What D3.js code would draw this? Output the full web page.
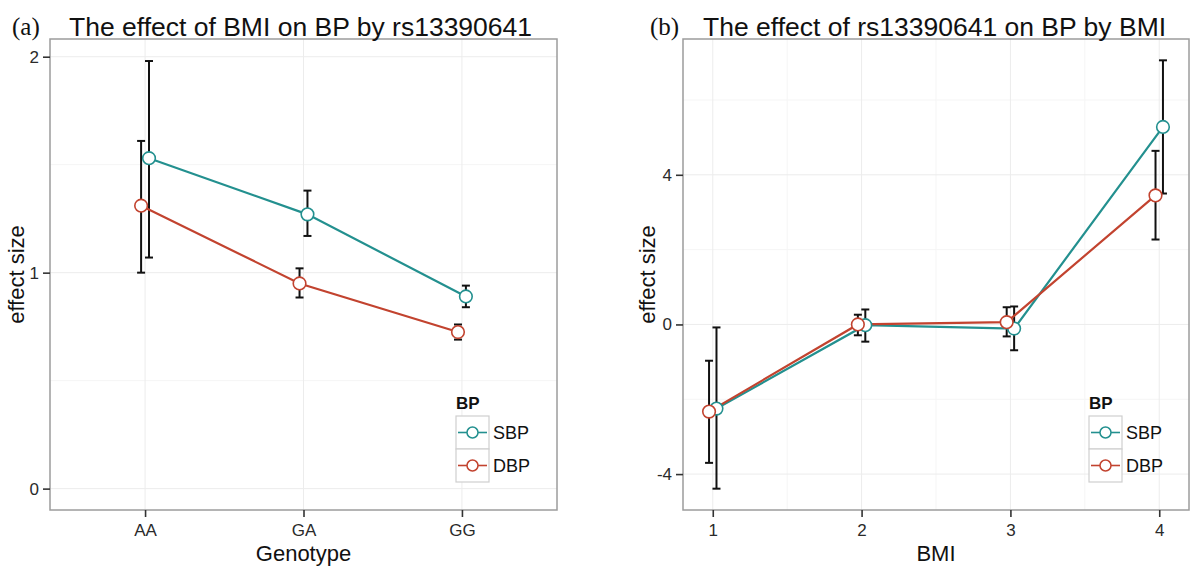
<!DOCTYPE html>
<html><head><meta charset="utf-8">
<script src="https://cdn.jsdelivr.net/npm/d3@7"></script>
<style>body{margin:0;background:#fff}svg{display:block}</style>
</head><body><svg id="chart" width="1200" height="571"></svg>
<script>
// ---------- data ----------
const series = ["SBP", "DBP"];
const genotypes = ["AA", "GA", "GG"];
const sbpA = [1.53, 1.27, 0.89];
const sbpA_lo = [1.07, 1.17, 0.84];
const sbpA_hi = [1.98, 1.38, 0.94];
const dbpA = [1.31, 0.95, 0.725];
const dbpA_lo = [1.00, 0.885, 0.69];
const dbpA_hi = [1.61, 1.02, 0.76];

const bmi = [1, 2, 3, 4];
const sbpB = [-2.25, -0.02, -0.11, 5.28];
const sbpB_lo = [-4.39, -0.46, -0.69, 3.50];
const sbpB_hi = [-0.08, 0.40, 0.48, 7.06];
const dbpB = [-2.33, 0.0, 0.06, 3.45];
const dbpB_lo = [-3.70, -0.29, -0.32, 2.27];
const dbpB_hi = [-0.97, 0.26, 0.46, 4.64];

const yTicksA = [0, 1, 2];
const yMinorA = [0.5, 1.5];
const yTicksB = [-4, 0, 4];
const yMinorB = [-2, 2, 6];
const xMinorB = [1.5, 2.5, 3.5];

// ---------- style ----------
const colors = {SBP: "#23908f", DBP: "#c2432f"};
const dodge = {SBP: 0.025, DBP: -0.025};
const sans = "'Liberation Sans', Arial, sans-serif";
const serif = "'Liberation Serif', 'Times New Roman', serif";

const svg = d3.select("#chart");
svg.append("rect").attr("width", 1200).attr("height", 571).attr("fill", "#fff");

function buildRows(cats, vals) {
  return series.map((s, si) => ({
    name: s,
    pts: cats.map((c, i) => ({cat: c, v: vals[si][0][i], lo: vals[si][1][i], hi: vals[si][2][i]}))
  }));
}

function drawPanel(cfg) {
  const {box, x, xPos, y, rows, yTicks, yMinor, xMinor, xTickValues, letter, title, xLabel, titleX, letterX, yLabelX, legendX} = cfg;
  const g = svg.append("g");
  // grid
  const grid = g.append("g");
  yMinor.forEach(v => grid.append("line").attr("x1", box.l).attr("x2", box.r)
    .attr("y1", y(v)).attr("y2", y(v)).attr("stroke", "#f5f5f5").attr("stroke-width", 1));
  (xMinor || []).forEach(v => grid.append("line").attr("y1", box.t).attr("y2", box.b)
    .attr("x1", x(v)).attr("x2", x(v)).attr("stroke", "#f5f5f5").attr("stroke-width", 1));
  yTicks.forEach(v => grid.append("line").attr("x1", box.l).attr("x2", box.r)
    .attr("y1", y(v)).attr("y2", y(v)).attr("stroke", "#ececec").attr("stroke-width", 1));
  xTickValues.forEach(v => grid.append("line").attr("y1", box.t).attr("y2", box.b)
    .attr("x1", x(v)).attr("x2", x(v)).attr("stroke", "#ececec").attr("stroke-width", 1));

  // error bars
  const eb = g.append("g");
  rows.forEach(r => r.pts.forEach(p => {
    const cx = xPos(p.cat, dodge[r.name]);
    eb.append("line").attr("x1", cx).attr("x2", cx).attr("y1", y(p.lo)).attr("y2", y(p.hi))
      .attr("stroke", "#111").attr("stroke-width", 2);
    [p.lo, p.hi].forEach(v => eb.append("line").attr("x1", cx - 4).attr("x2", cx + 4)
      .attr("y1", y(v)).attr("y2", y(v)).attr("stroke", "#111").attr("stroke-width", 2));
  }));
  // lines
  const line = d3.line().x(p => p.px).y(p => y(p.v));
  rows.forEach(r => {
    const pts = r.pts.map(p => ({...p, px: xPos(p.cat, dodge[r.name])}));
    g.append("path").attr("d", line(pts)).attr("fill", "none")
      .attr("stroke", colors[r.name]).attr("stroke-width", 2.2);
  });
  // points
  rows.forEach(r => r.pts.forEach(p => {
    g.append("circle").attr("cx", xPos(p.cat, dodge[r.name])).attr("cy", y(p.v)).attr("r", 6.3)
      .attr("fill", "#fff").attr("stroke", colors[r.name]).attr("stroke-width", 1.6);
  }));
  // border
  g.append("rect").attr("x", box.l).attr("y", box.t).attr("width", box.r - box.l).attr("height", box.b - box.t)
    .attr("fill", "none").attr("stroke", "#9c9c9c").attr("stroke-width", 1.5);

  // axes
  const ya = g.append("g").attr("transform", `translate(${box.l},0)`)
    .call(d3.axisLeft(y).tickValues(yTicks).tickSize(7).tickPadding(4).tickFormat(d => String(d)));
  const xa = g.append("g").attr("transform", `translate(0,${box.b})`)
    .call(d3.axisBottom(x).tickValues(xTickValues).tickSize(7).tickPadding(7).tickFormat(d => String(d)));
  [ya, xa].forEach(a => {
    a.select(".domain").remove();
    a.selectAll(".tick line").attr("stroke", "#333").attr("stroke-width", 1.6);
    a.selectAll(".tick text").attr("fill", "#2a2a2a").style("font-family", sans).style("font-size", "17px");
  });

  // axis titles
  g.append("text").attr("x", (box.l + box.r) / 2).attr("y", 561).attr("text-anchor", "middle")
    .style("font-family", sans).style("font-size", "22px").attr("fill", "#111").text(xLabel);
  g.append("text").attr("transform", `translate(${yLabelX},${(box.t + box.b) / 2}) rotate(-90)`)
    .attr("text-anchor", "middle").style("font-family", sans).style("font-size", "22px")
    .attr("fill", "#111").text("effect size");

  // titles
  g.append("text").attr("x", letterX).attr("y", 35).style("font-family", serif).style("font-size", "25px")
    .attr("fill", "#111").text(letter);
  g.append("text").attr("x", titleX).attr("y", 36).style("font-family", sans).style("font-size", "26.5px")
    .attr("fill", "#111").text(title);

  // legend
  const lg = g.append("g");
  lg.append("text").attr("x", legendX).attr("y", 409).style("font-family", sans).style("font-size", "17px")
    .style("font-weight", "bold").attr("fill", "#111").text("BP");
  series.forEach((s, i) => {
    const ky = 416 + i * 33;
    lg.append("rect").attr("x", legendX).attr("y", ky).attr("width", 33).attr("height", 33)
      .attr("fill", "#fff").attr("stroke", "#cfcfcf").attr("stroke-width", 1.2);
    lg.append("line").attr("x1", legendX + 2).attr("x2", legendX + 31).attr("y1", ky + 16.5).attr("y2", ky + 16.5)
      .attr("stroke", colors[s]).attr("stroke-width", 1.6);
    lg.append("circle").attr("cx", legendX + 16.5).attr("cy", ky + 16.5).attr("r", 5.5)
      .attr("fill", "#fff").attr("stroke", colors[s]).attr("stroke-width", 1.5);
    lg.append("text").attr("x", legendX + 37).attr("y", ky + 23).style("font-family", sans).style("font-size", "18px")
      .attr("fill", "#111").text(s);
  });
}

// ---------- panel a ----------
const boxA = {l: 50, r: 557, t: 39, b: 510};
const xA = d3.scalePoint().domain(genotypes).range([boxA.l, boxA.r]).padding(0.6);
const yA = d3.scaleLinear().domain([-0.099, 2.082]).range([boxA.b, boxA.t]);
drawPanel({
  box: boxA, x: xA, y: yA,
  xPos: (c, d) => xA(c) + d * xA.step(),
  rows: buildRows(genotypes, [[sbpA, sbpA_lo, sbpA_hi], [dbpA, dbpA_lo, dbpA_hi]]),
  yTicks: yTicksA, yMinor: yMinorA, xMinor: null, xTickValues: genotypes,
  letter: "(a)", title: "The effect of BMI on BP by rs13390641", xLabel: "Genotype",
  letterX: 12, titleX: 69, yLabelX: 24, legendX: 456
});

// ---------- panel b ----------
const boxB = {l: 683, r: 1189, t: 39, b: 510};
const xB = d3.scaleLinear().domain([0.8, 4.2]).range([boxB.l, boxB.r]);
const yB = d3.scaleLinear().domain([-4.96, 7.63]).range([boxB.b, boxB.t]);
drawPanel({
  box: boxB, x: xB, y: yB,
  xPos: (c, d) => xB(c + d),
  rows: buildRows(bmi, [[sbpB, sbpB_lo, sbpB_hi], [dbpB, dbpB_lo, dbpB_hi]]),
  yTicks: yTicksB, yMinor: yMinorB, xMinor: xMinorB, xTickValues: bmi,
  letter: "(b)", title: "The effect of rs13390641 on BP by BMI", xLabel: "BMI",
  letterX: 650, titleX: 703, yLabelX: 655, legendX: 1089
});
</script>
</body></html>
